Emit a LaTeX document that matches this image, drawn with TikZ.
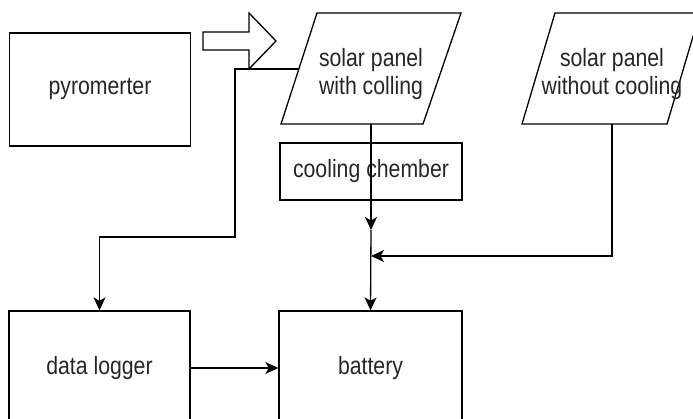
\documentclass[tikz,border=0pt]{standalone}
\usepackage{fontspec}
\setmainfont{Liberation Sans}[FakeStretch=0.85]
\usetikzlibrary{arrows.meta}

\begin{document}
\begin{tikzpicture}[x=1pt,y=-1pt]
  \tikzstyle{block} = [rectangle, draw, line width=1.3pt, inner sep=0pt, text=black!85, font=\fontsize{25}{28}\selectfont, align=center]
  \tikzstyle{label} = [inner sep=0pt, text=black!85, font=\fontsize{25}{28}\selectfont, align=center]
  \tikzstyle{edge} = [line width=1.3pt]
  \tikzstyle{arrow} = [line width=1.3pt, -{Stealth[length=13pt,width=12pt,inset=3.5pt]}]
  \useasboundingbox (0,0) rectangle (693,419);

  % Pyrometer and the big arrow
  \node [block, minimum width=181pt, minimum height=113pt] (pyro) at (100,89.5) {pyromerter};
  \draw [edge] (203,32) -- (249,32) -- (249,13) -- (276,41) -- (249,69) -- (249,50) -- (203,50) -- cycle;

  % Panel with cooling
  \draw [edge] (317,13) -- (461,13) -- (423,124) -- (281,124) -- cycle;
  \node [label] (panelc) at (371,74) {solar panel\\with colling};
  \coordinate (panelc-w) at (299,69);
  \coordinate (panelc-s) at (371,124);

  % Panel without cooling
  \draw [edge] (555,13) -- (700,13) -- (667,124) -- (522,124) -- cycle;
  \node [label] (panelr) at (612,74) {solar panel\\without cooling};
  \coordinate (panelr-s) at (612,124);

  % Cooling chamber
  \node [block, minimum width=182pt, minimum height=57pt] (cool) at (371,171.5) {cooling chember};

  % Bottom row
  \node [block, minimum width=181pt, minimum height=114pt] (dlog) at (99.5,368) {data logger};
  \node [block, minimum width=183pt, minimum height=114pt] (batt) at (370.5,368) {battery};

  % Junctions
  \coordinate (bend) at (235,237);
  \coordinate (j1) at (371,230);
  \coordinate (j2) at (371,256);

  % Connectors
  \draw [arrow] (panelc-w) -| (bend) -| (dlog.north);
  \draw [arrow] (panelc-s) -- (j1);
  \draw [arrow] (j1) -- (batt.north);
  \draw [arrow] (panelr-s) |- (j2);
  \draw [arrow] (dlog.east) -- (batt.west);
\end{tikzpicture}
\end{document}
